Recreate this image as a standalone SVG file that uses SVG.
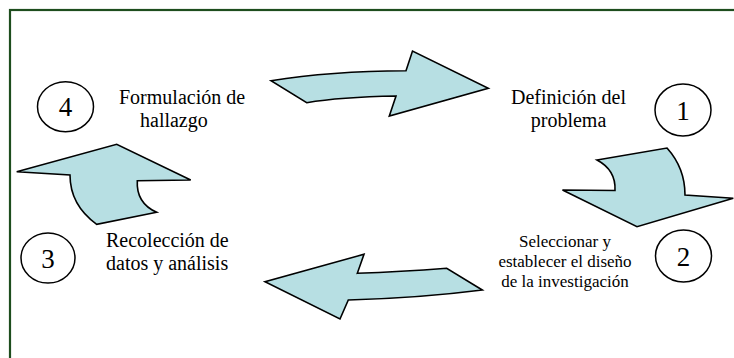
<svg xmlns="http://www.w3.org/2000/svg" width="734" height="358" viewBox="0 0 734 358">
<style>
.frame{fill:none;stroke:#1e4d1e;stroke-width:2.2}
.arrow{fill:#b7dfe3;stroke:#000;stroke-width:1.6;stroke-linejoin:miter}
.circ{fill:#fff;stroke:#000;stroke-width:1.5}
text{font-family:'Liberation Serif','DejaVu Serif','Times New Roman',serif;fill:#000}
.t{font-size:20px}
.s{font-size:17px}
.n{font-size:27px}
</style>
<rect width="734" height="358" fill="#fff"/>
<rect class="frame" x="10" y="10" width="740" height="360"/>
<g id="connectors">
<path class="arrow" d="M271,80.7 Q330,71 406,70.7 L412.5,51 L488.3,88.3 L389.3,116 L396,96 Q340,97 306.7,102.7 Z"/>
<path class="arrow" d="M597,160 L667,148 Q685,168 685,195 L733.3,198.3 L637,226.7 L562.5,190 L615,190.5 Q616,170 597,160 Z"/>
<path class="arrow" d="M482.3,290 L446.7,268.3 Q400,272 357.3,273.3 L364,254.3 L265,281.7 L340,319 L348.3,300 Q420,298 482.3,290 Z"/>
<path class="arrow" d="M16.7,171.7 L116.7,144.3 L190.7,180 L137.3,180.7 Q136,203 156.7,212.3 L96.7,224.3 Q70,205 70,175 Z"/>
</g>
<g id="node1">
<ellipse class="circ" cx="683" cy="110" rx="28" ry="26"/>
<text class="n" x="683" y="119.5" text-anchor="middle">1</text>
<text class="t" x="568.5" y="104" text-anchor="middle">Definición del</text>
<text class="t" x="568.5" y="127" text-anchor="middle">problema</text>
</g>
<g id="node2">
<ellipse class="circ" cx="683.5" cy="256" rx="28" ry="26"/>
<text class="n" x="683.5" y="265.5" text-anchor="middle">2</text>
<text class="s" x="565" y="246.7" text-anchor="middle">Seleccionar y</text>
<text class="s" x="565" y="266.7" text-anchor="middle">establecer el diseño</text>
<text class="s" x="565" y="286.5" text-anchor="middle">de la investigación</text>
</g>
<g id="node3">
<ellipse class="circ" cx="48" cy="258" rx="27" ry="25"/>
<text class="n" x="48" y="267.5" text-anchor="middle">3</text>
<text class="t" x="106" y="246.7">Recolección de</text>
<text class="t" x="106" y="269.5">datos y análisis</text>
</g>
<g id="node4">
<ellipse class="circ" cx="65.5" cy="106.7" rx="28" ry="25"/>
<text class="n" x="65.5" y="116" text-anchor="middle">4</text>
<text class="t" x="119" y="104">Formulación de</text>
<text class="t" x="140" y="126.7">hallazgo</text>
</g>
</svg>
